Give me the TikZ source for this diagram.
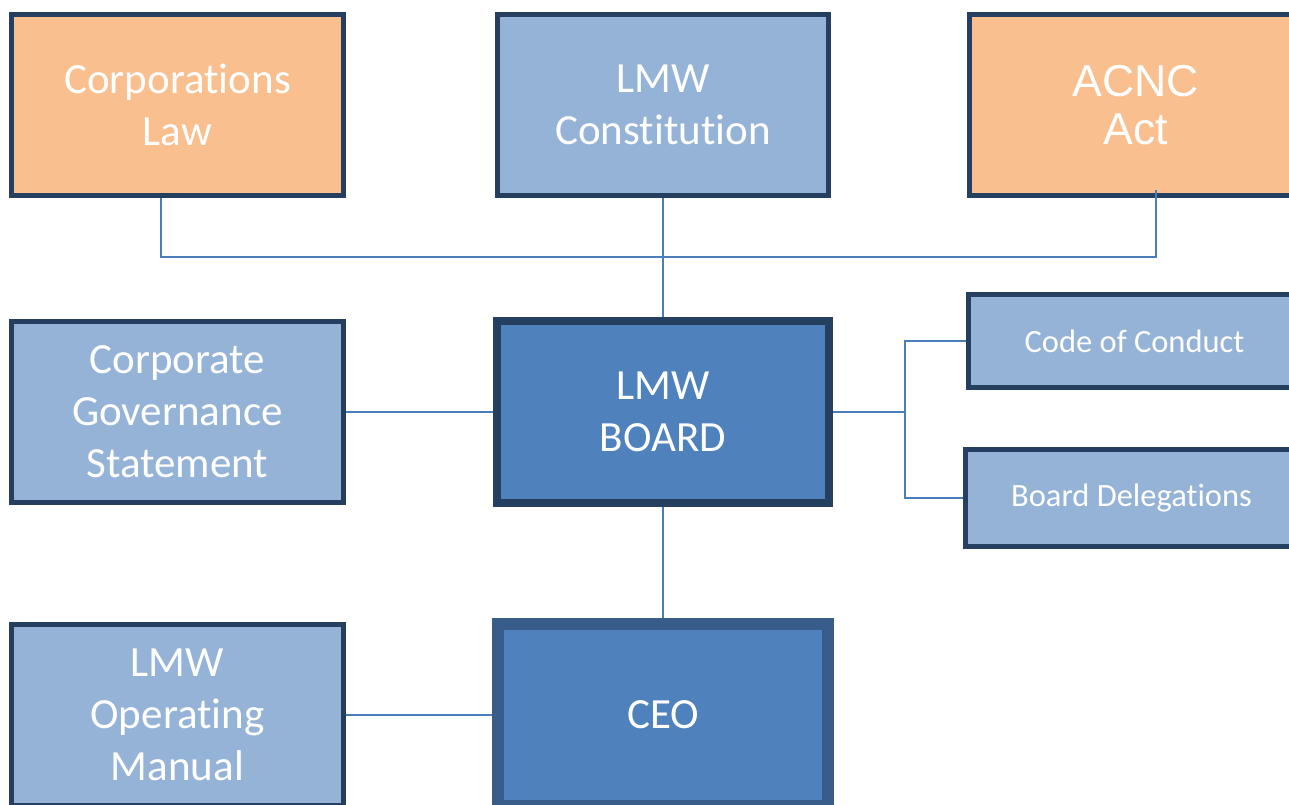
\documentclass[tikz,border=0pt]{standalone}
\usepackage{fontspec}
\setmainfont[Ligatures=NoCommon]{Carlito}
\newfontfamily\arialfont{Liberation Sans}
\usetikzlibrary{positioning, calc}
\definecolor{laworange}{HTML}{F9BF8F}
\definecolor{docblue}{HTML}{95B3D7}
\definecolor{boardblue}{HTML}{4F81BD}
\definecolor{edgenavy}{HTML}{243F60}
\definecolor{ceoedge}{HTML}{385D8A}
\definecolor{wireblue}{HTML}{4A7EBB}

\begin{document}
\begin{tikzpicture}[
    x=0.02cm, y=-0.02cm,
    doc/.style={rectangle, draw=edgenavy, line width=2.85pt, minimum width=6.64cm, minimum height=3.62cm, inner sep=0pt, align=center, text=white, font=\fontsize{24.5}{29.5}\selectfont},
    law/.style={doc, fill=laworange},
    pol/.style={doc, fill=docblue},
    smallpol/.style={pol, font=\fontsize{18.5}{22}\selectfont},
    chief/.style={doc, fill=boardblue, minimum height=3.64cm},
    wire/.style={draw=wireblue, line width=1.15pt}
]
\useasboundingbox (0,0) rectangle (1289,805);

% Top row
\node[law] (law) at (177.5,105) {Corporations\\Law};
\node[pol, minimum width=6.62cm] (const) at (663,105) {LMW\\Constitution};
\node[law, font=\arialfont\fontsize{25.4}{27.3}\selectfont] (acnc) at (1135.5,105) {ACNC\\Act};

% Middle row
\node[pol] (cgs) at (177.5,412) {Corporate\\Governance\\Statement};
\node[chief, line width=4.55pt] (board) at (663,412) {LMW\\BOARD};
\node[smallpol, minimum height=1.86cm] (coc) at (1134.5,341) {Code of Conduct};
\node[smallpol, minimum height=1.94cm] (bdel) at (1131.5,498) {Board Delegations};

% Bottom row
\node[pol] (lom) at (177.5,715) {LMW\\Operating\\Manual};
\node[chief, draw=ceoedge, line width=6.83pt, minimum width=6.6cm] (ceo) at (663,715) {CEO};

% Links
\coordinate (busL) at (161,257);
\coordinate (busR) at (1156,257);
\coordinate (fork) at (905,412);

\draw[wire] (law.south -| busL) -- (busL) -- (busR) -- ($(acnc.south -| busR)+(0,-8)$);
\draw[wire] (const) -- (board);
\draw[wire] (cgs) -- (board);
\draw[wire] (board) -- (fork);
\draw[wire] (coc.west) -| (fork) |- (bdel.west);
\draw[wire] (board) -- (ceo);
\draw[wire] (lom) -- (ceo);

\end{tikzpicture}
\end{document}
